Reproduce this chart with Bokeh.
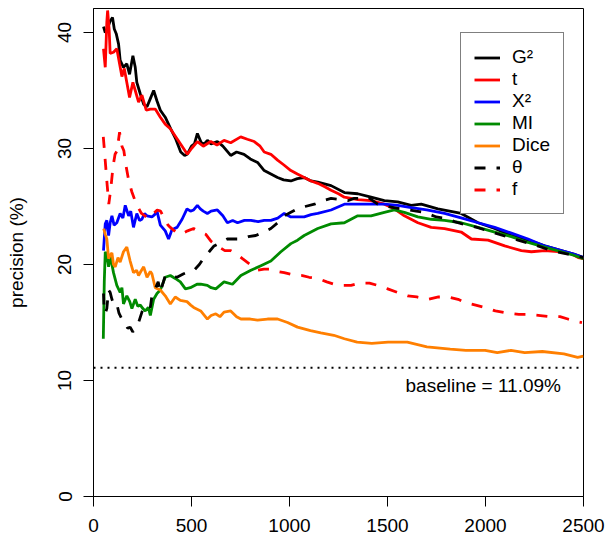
from bokeh.plotting import figure
from bokeh.models import Range1d, FixedTicker, Legend, LegendItem, Span, Label
from bokeh.embed import file_html
from bokeh.resources import INLINE

# ---- data ----
x_ticks = [0, 500, 1000, 1500, 2000, 2500]
y_ticks = [0, 10, 20, 30, 40]
baseline = 11.09

g2_x = [51, 60, 68, 85, 97, 106, 116, 128, 136, 153, 170, 184, 201, 213, 221, 239, 256, 273, 290, 307,
        324, 341, 366, 394, 420, 445, 465, 478, 500, 515, 530, 550, 565, 581, 600, 632, 660, 700, 730,
        768, 800, 837, 871, 905, 939, 970, 1007, 1040, 1075, 1110, 1144, 1212, 1280, 1348, 1416, 1484,
        1552, 1621, 1672, 1757, 1876, 1962, 2047, 2132, 2217, 2302, 2387, 2450, 2500]
g2_y = [40.5, 40.0, 40.2, 41.0, 41.3, 40.3, 39.9, 39.0, 37.6, 37.0, 37.3, 36.4, 38.0, 37.0, 35.7, 34.7,
        33.8, 33.6, 34.3, 35.0, 34.1, 33.3, 32.7, 31.7, 30.8, 29.7, 29.4, 29.5, 30.2, 30.4, 31.3, 30.5,
        30.4, 30.7, 30.4, 30.6, 30.2, 29.4, 29.7, 29.5, 29.1, 28.8, 28.1, 27.8, 27.5, 27.3, 27.2, 27.4,
        27.5, 27.2, 27.1, 26.8, 26.2, 26.1, 25.8, 25.5, 25.4, 25.1, 25.2, 24.8, 24.4, 23.6, 23.1, 22.5,
        22.1, 21.6, 21.2, 20.9, 20.6]

t_x = [51, 60, 68, 72, 80, 85, 102, 119, 133, 145, 157, 170, 184, 201, 213, 230, 247, 269, 290, 315,
       341, 366, 392, 428, 479, 500, 530, 560, 598, 630, 666, 700, 751, 785, 820, 850, 871, 905, 939,
       970, 1007, 1040, 1075, 1110, 1144, 1180, 1212, 1250, 1280, 1348, 1416, 1484, 1535, 1586, 1655,
       1723, 1791, 1876, 1928, 2013, 2098, 2183, 2234, 2302, 2387, 2440, 2473, 2500]
t_y = [38.6, 37.0, 40.9, 41.9, 40.2, 38.2, 38.3, 38.6, 37.3, 36.2, 36.9, 35.7, 34.4, 35.7, 35.0, 34.0,
       34.6, 33.3, 33.4, 33.4, 32.7, 32.1, 31.7, 30.8, 29.5, 30.0, 30.6, 30.2, 30.6, 30.3, 30.7, 30.5,
       31.0, 30.8, 30.6, 30.2, 29.7, 29.5, 29.0, 28.6, 28.1, 27.8, 27.5, 27.2, 27.0, 26.7, 26.4, 26.1,
       25.8, 25.6, 25.5, 25.2, 24.8, 24.2, 23.6, 23.2, 23.1, 22.8, 22.2, 22.1, 21.6, 21.2, 21.1, 21.2,
       21.1, 20.9, 20.6, 20.5]

x2_x = [51, 60, 68, 77, 85, 94, 105, 119, 136, 150, 162, 179, 190, 204, 221, 235, 247, 260, 273, 298,
        312, 324, 341, 366, 383, 392, 400, 426, 452, 477, 495, 511, 530, 545, 560, 581, 600, 632, 660,
        683, 710, 735, 770, 803, 840, 871, 905, 940, 973, 1007, 1041, 1075, 1110, 1144, 1212, 1280,
        1348, 1416, 1484, 1552, 1621, 1700, 1791, 1880, 1962, 2047, 2132, 2217, 2302, 2387, 2450, 2500]
x2_y = [21.2, 23.5, 23.8, 22.5, 23.6, 24.2, 23.4, 23.6, 24.4, 24.0, 25.1, 24.2, 24.6, 23.2, 24.4, 23.8,
        23.9, 24.4, 24.2, 24.1, 24.3, 24.6, 23.4, 22.9, 22.2, 22.6, 23.0, 23.2, 23.9, 24.8, 24.6, 24.7,
        25.1, 24.8, 24.6, 24.4, 24.6, 24.7, 24.2, 23.6, 23.8, 23.6, 23.8, 23.8, 23.7, 23.8, 23.8, 24.0,
        24.4, 24.1, 24.1, 24.1, 24.3, 24.4, 24.7, 25.2, 25.2, 25.2, 25.2, 25.1, 24.9, 24.7, 24.4, 24.0,
        23.6, 23.2, 22.7, 22.2, 21.6, 21.2, 20.9, 20.6]

mi_x = [50, 55, 60, 68, 77, 85, 102, 119, 136, 145, 153, 170, 185, 196, 213, 226, 239, 252, 264, 280,
        290, 307, 324, 341, 366, 392, 417, 443, 469, 494, 528, 547, 581, 600, 624, 666, 709, 752, 803,
        854, 905, 956, 1007, 1041, 1075, 1144, 1212, 1280, 1348, 1416, 1484, 1535, 1586, 1655, 1723,
        1791, 1876, 1962, 2047, 2132, 2217, 2302, 2387, 2450, 2500]
mi_y = [13.6, 18.5, 21.1, 20.8, 19.8, 20.8, 19.3, 18.2, 17.6, 18.0, 16.6, 17.3, 16.8, 16.2, 17.0, 16.4,
        16.5, 16.2, 16.0, 16.3, 15.6, 17.0, 17.5, 17.8, 18.9, 19.05, 18.8, 18.5, 17.9, 18.0, 18.3, 18.3,
        18.2, 18.0, 17.9, 18.5, 18.3, 19.05, 19.5, 19.9, 20.3, 21.1, 21.8, 22.1, 22.5, 23.1, 23.5, 23.6,
        24.2, 24.2, 24.5, 24.7, 24.5, 24.1, 23.9, 23.8, 23.6, 23.2, 22.8, 22.4, 21.9, 21.5, 21.1, 20.8,
        20.5]

dice_x = [52, 60, 68, 77, 85, 94, 102, 111, 125, 136, 153, 170, 187, 204, 220, 230, 245, 256, 273, 290,
          298, 315, 341, 366, 392, 417, 443, 477, 496, 511, 547, 581, 600, 624, 645, 666, 700, 730, 752,
          800, 837, 888, 939, 990, 1041, 1107, 1160, 1226, 1280, 1345, 1420, 1503, 1601, 1701, 1820,
          1900, 1998, 2060, 2130, 2200, 2290, 2400, 2470, 2500]
dice_y = [23.1, 22.6, 22.2, 20.5, 20.8, 21.0, 20.0, 19.8, 20.6, 20.2, 21.1, 21.5, 20.3, 19.3, 19.5,
          19.05, 19.5, 19.8, 18.9, 19.4, 19.2, 18.0, 17.8, 17.3, 16.6, 17.2, 16.9, 16.8, 16.5, 16.3, 16.0,
          15.3, 15.6, 15.75, 15.5, 15.9, 16.0, 15.5, 15.3, 15.3, 15.2, 15.3, 15.3, 15.0, 14.6, 14.3, 14.1,
          13.9, 13.6, 13.3, 13.2, 13.3, 13.3, 12.9, 12.7, 12.6, 12.6, 12.4, 12.6, 12.4, 12.5, 12.3, 12.0,
          12.1]

theta_x = [51, 55, 60, 68, 77, 85, 94, 105, 119, 130, 145, 160, 175, 187, 200, 213, 230, 247, 260, 273,
           290, 298, 315, 330, 341, 366, 392, 426, 460, 490, 513, 540, 564, 590, 615, 650, 683, 720, 752,
           790, 828, 870, 905, 940, 973, 1007, 1041, 1080, 1127, 1170, 1212, 1260, 1297, 1330, 1365,
           1400, 1450, 1500, 1570, 1646, 1689, 1749, 1791, 1842, 1900, 1957, 2050, 2166, 2250, 2336,
           2420, 2500]
theta_y = [17.5, 16.0, 15.8, 16.2, 17.8, 17.6, 17.0, 16.5, 16.6, 15.8, 15.3, 15.0, 14.5, 14.6, 14.2,
           14.4, 15.0, 15.9, 16.4, 16.5, 16.3, 17.3, 17.9, 18.5, 17.6, 19.05, 19.05, 18.9, 19.2, 19.4,
           19.5, 20.0, 20.6, 21.1, 21.6, 21.9, 22.2, 22.2, 22.2, 22.4, 22.5, 22.8, 23.1, 23.6, 24.2, 24.5,
           24.8, 25.0, 25.2, 25.5, 25.7, 25.6, 25.5, 25.7, 25.7, 25.8, 25.2, 25.0, 24.8, 24.6, 24.5, 24.1,
           24.0, 23.7, 23.4, 23.2, 22.7, 22.1, 21.7, 21.2, 20.9, 20.6]

f_x = [50, 55, 62, 70, 78, 88, 100, 110, 120, 133, 145, 155, 165, 180, 195, 210, 225, 245, 270, 290,
       307, 325, 342, 360, 380, 392, 420, 445, 480, 511, 545, 573, 600, 632, 670, 700, 730, 760, 800,
       837, 870, 905, 940, 973, 1020, 1066, 1100, 1144, 1190, 1229, 1270, 1314, 1360, 1408, 1450, 1501,
       1550, 1603, 1650, 1706, 1760, 1810, 1860, 1900, 1950, 1997, 2050, 2117, 2170, 2217, 2280, 2334,
       2380, 2420, 2460, 2492]
f_y = [31.0, 30.0, 28.5, 26.8, 25.2, 26.5, 28.5, 29.5, 29.8, 31.4, 30.2, 29.8, 28.6, 27.2, 26.3, 25.6,
       25.0, 24.4, 24.1, 24.0, 24.4, 24.7, 24.6, 24.0, 23.4, 23.2, 22.8, 22.6, 22.9, 23.1, 22.8, 22.6,
       22.0, 21.6, 21.2, 21.2, 20.9, 20.5, 20.0, 19.5, 19.6, 19.6, 19.4, 19.3, 19.1, 19.05, 18.9, 18.8,
       18.5, 18.3, 18.2, 18.2, 18.4, 18.4, 18.2, 17.9, 17.6, 17.3, 17.2, 17.0, 17.2, 17.2, 17.0, 16.7,
       16.5, 16.3, 16.0, 15.8, 15.7, 15.7, 15.6, 15.5, 15.5, 15.3, 15.1, 15.0]

series = [
    ("G\u00b2", g2_x, g2_y, "#000000", "solid"),
    ("t", t_x, t_y, "#FF0000", "solid"),
    ("X\u00b2", x2_x, x2_y, "#0000FF", "solid"),
    ("MI", mi_x, mi_y, "#008B00", "solid"),
    ("Dice", dice_x, dice_y, "#FF7F00", "solid"),
    ("\u03b8", theta_x, theta_y, "#000000", "11 11"),
    ("f", f_x, f_y, "#FF0000", "11 11"),
]

FONT = "Liberation Sans"
FS = "19px"

p = figure(width=605, height=540, output_backend="svg", toolbar_location=None,
           x_range=Range1d(0, 2500), y_range=Range1d(0, 42.07),
           min_border_left=93, min_border_right=22, min_border_top=8, min_border_bottom=44)
p.grid.visible = False
p.background_fill_color = "white"
p.border_fill_color = "white"
p.outline_line_color = "black"
p.outline_line_width = 1

for ax in (p.xaxis[0], p.yaxis[0]):
    ax.axis_line_color = "black"
    ax.major_tick_line_color = "black"
    ax.major_tick_out = 10
    ax.major_tick_in = 0
    ax.minor_tick_line_color = None
    ax.major_label_text_font = FONT
    ax.major_label_text_font_size = FS
    ax.major_label_text_color = "black"

p.xaxis.ticker = FixedTicker(ticks=x_ticks)
p.yaxis.ticker = FixedTicker(ticks=y_ticks)
p.xaxis.major_label_standoff = 12
p.yaxis.major_label_standoff = 12
p.yaxis.major_label_orientation = "parallel"
p.yaxis.axis_label = "precision (%)"
p.yaxis.axis_label_text_font = FONT
p.yaxis.axis_label_text_font_size = FS
p.yaxis.axis_label_text_font_style = "normal"
p.yaxis.axis_label_text_color = "black"
p.yaxis.axis_label_standoff = 29

items = []
for name, xs, ys, col, dash in series:
    r = p.line(xs, ys, line_color=col, line_width=2.8, line_dash=dash)
    items.append(LegendItem(label=name, renderers=[r]))

p.add_layout(Span(location=baseline, dimension="width", line_color="black",
                  line_width=2, line_dash="2 5"))
p.add_layout(Label(x=2385, y=baseline - 1.52, text="baseline = %.2f%%" % baseline,
                   text_align="right", text_baseline="middle",
                   text_font=FONT, text_font_size=FS, text_color="black"))

legend = Legend(items=items, location=(367, 282))
legend.padding = 13
legend.spacing = 0
legend.glyph_width = 26
legend.glyph_height = 21
legend.label_height = 21
legend.label_standoff = 12
legend.label_text_font = FONT
legend.label_text_font_size = FS
legend.label_text_color = "black"
legend.border_line_color = "black"
legend.border_line_width = 1
legend.background_fill_color = "white"
legend.background_fill_alpha = 1
legend.margin = 0
p.add_layout(legend)

open("out.html", "w").write(file_html(p, INLINE))
